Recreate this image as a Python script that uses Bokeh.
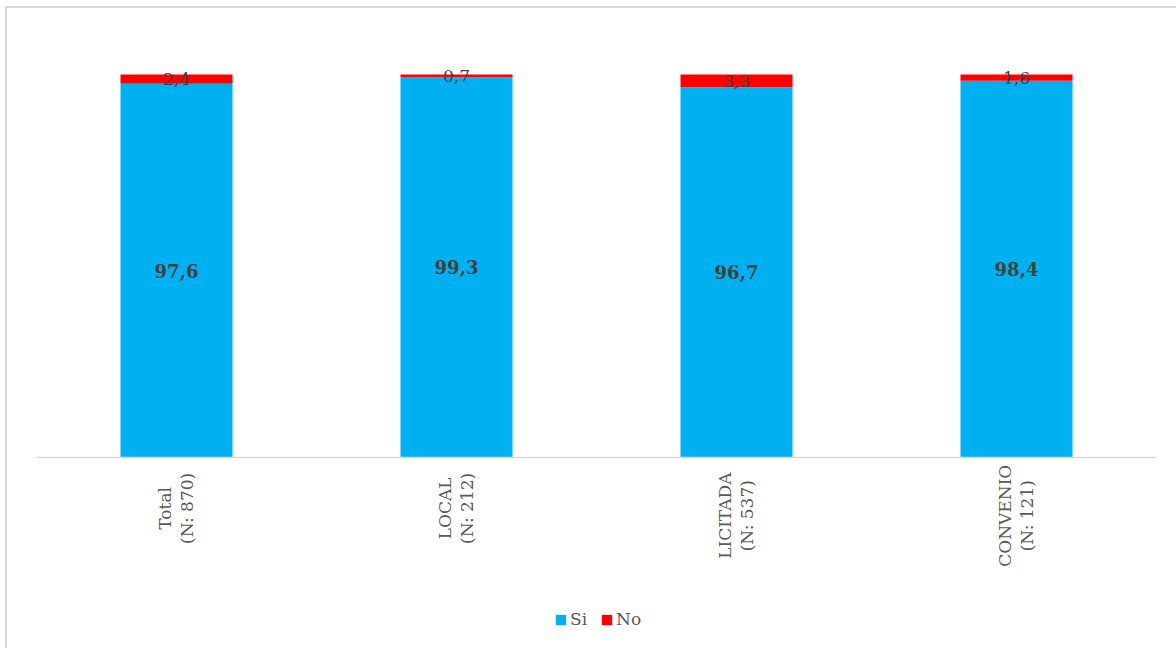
from bokeh.plotting import figure
from bokeh.models import ColumnDataSource, LabelSet, Legend, LegendItem, FactorRange, Span
from bokeh.core.properties import value
from bokeh.embed import file_html
from bokeh.resources import INLINE
from math import pi

categories = ["Total", "LOCAL", "LICITADA", "CONVENIO"]
n_labels = ["(N: 870)", "(N: 212)", "(N: 537)", "(N: 121)"]
si = [97.6, 99.3, 96.7, 98.4]
no = [2.4, 0.7, 3.3, 1.6]

def fmt(v):
    return f"{v:.1f}".replace(".", ",")

FONT = "DejaVu Serif"
PX = 3.83  # pixels per percentage point
FRAME_H = 640

def est_w(s):
    return sum(11.3 if c.isupper() else 9.2 for c in s)

# rotated label blocks start ~13px below the axis; lines centred within the block
lab_y = [-(13 + max(est_w(a), est_w(b)) / 2) / PX for a, b in zip(categories, n_labels)]

src = ColumnDataSource(dict(
    cat=categories, nlab=n_labels, si=si, no=no,
    si_mid=[s / 2 for s in si],
    no_mid=[s + n / 2 for s, n in zip(si, no)],
    top=[s + n for s, n in zip(si, no)],
    si_lbl=[fmt(v) for v in si],
    no_lbl=[fmt(v) for v in no],
    lab_y=lab_y,
))

p = figure(x_range=FactorRange(*categories, range_padding=0),
           y_range=(-(FRAME_H - 449) / PX, 100 + 66 / PX),
           frame_width=1120, frame_height=FRAME_H, output_backend="svg", toolbar_location=None,
           min_border_left=29, min_border_right=20, min_border_top=0, min_border_bottom=0)
p.styles = {"border-top": "2px solid #D9D9D9", "border-left": "2px solid #D9D9D9",
            "margin-left": "5px", "margin-top": "6px"}
p.outline_line_color = None
p.border_fill_color = "white"
p.background_fill_color = "white"
p.xgrid.visible = False
p.ygrid.visible = False
p.xaxis.visible = False
p.yaxis.visible = False

r_si = p.vbar(x="cat", bottom=0, top="si", width=0.4, source=src, color="#00B0F0", line_color=None)
r_no = p.vbar(x="cat", bottom="si", top="top", width=0.4, source=src, color="#FF0000", line_color=None)

p.add_layout(Span(location=0, dimension="width", line_color="#D9D9D9", line_width=1.5))

p.add_layout(LabelSet(x="cat", y="si_mid", text="si_lbl", source=src, text_align="center",
                      text_baseline="middle", text_font=value(FONT), text_font_style="bold",
                      text_font_size="18px", text_color="#404040"))
p.add_layout(LabelSet(x="cat", y="no_mid", text="no_lbl", source=src, text_align="center",
                      text_baseline="middle", text_font=value(FONT),
                      text_font_size="17px", text_color="#404040"))

# category labels, rotated, two centered lines
p.add_layout(LabelSet(x="cat", y="lab_y", text="cat", source=src, angle=pi / 2, x_offset=-11,
                      text_align="center", text_baseline="middle", text_font=value(FONT),
                      text_font_size="17px", text_color="#595959"))
p.add_layout(LabelSet(x="cat", y="lab_y", text="nlab", source=src, angle=pi / 2, x_offset=11,
                      text_align="center", text_baseline="middle", text_font=value(FONT),
                      text_font_size="17px", text_color="#595959"))

legend = Legend(items=[LegendItem(label="Si", renderers=[r_si]), LegendItem(label="No", renderers=[r_no])],
                orientation="horizontal", location=(518, 19),
                label_text_font=FONT, label_text_font_size="17px", label_text_color="#595959",
                glyph_width=13, glyph_height=13, spacing=10, label_standoff=3,
                border_line_color=None, background_fill_alpha=0, margin=0, padding=5)
p.add_layout(legend, "center")

open("out.html", "w").write(file_html(p, INLINE))
